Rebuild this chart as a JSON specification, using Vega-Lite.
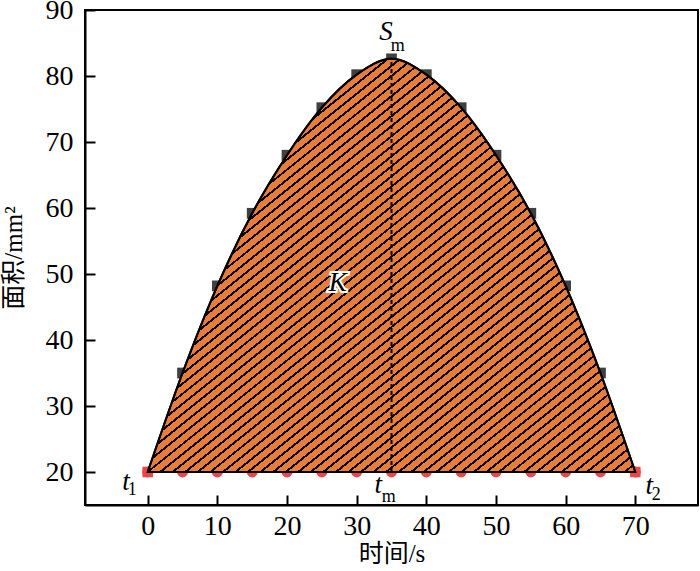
{
  "$schema": "https://vega.github.io/schema/vega-lite/v6.json",
  "width": 613,
  "height": 495,
  "autosize": "none",
  "padding": {"left": 85, "top": 10, "right": 2, "bottom": 66},
  "background": "white",
  "config": {
    "view": {"stroke": "black", "strokeWidth": 2},
    "font": "Liberation Serif",
    "axis": {
      "domainColor": "black", "domainWidth": 2,
      "tickColor": "black", "tickWidth": 2, "tickSize": -10,
      "labelFont": "Liberation Serif", "labelFontSize": 28, "labelColor": "black",
      "titleFont": "Liberation Serif, Noto Sans CJK SC", "titleFontSize": 25, "titleFontWeight": "normal", "titleColor": "black",
      "grid": false, "zindex": 1
    }
  },
  "datasets": {
    "squares": [
      {"t": 5, "s": 35.0}, {"t": 10, "s": 48.2}, {"t": 15, "s": 59.2}, {"t": 20, "s": 68.0},
      {"t": 25, "s": 75.2}, {"t": 30, "s": 80.2}, {"t": 35, "s": 82.6}, {"t": 40, "s": 80.2},
      {"t": 45, "s": 75.2}, {"t": 50, "s": 68.0}, {"t": 55, "s": 59.2}, {"t": 60, "s": 48.2},
      {"t": 65, "s": 35.0}
    ],
    "curve": [
      {"t": 0, "s": 20}, {"t": 5, "s": 35.0}, {"t": 10, "s": 48.2}, {"t": 15, "s": 59.2}, {"t": 20, "s": 68.0},
      {"t": 25, "s": 75.2}, {"t": 30, "s": 80.2}, {"t": 35, "s": 82.6}, {"t": 40, "s": 80.2},
      {"t": 45, "s": 75.2}, {"t": 50, "s": 68.0}, {"t": 55, "s": 59.2}, {"t": 60, "s": 48.2},
      {"t": 65, "s": 35.0}, {"t": 70, "s": 20}
    ],
    "base": [
      {"t": 0, "s": 20}, {"t": 5, "s": 20}, {"t": 10, "s": 20}, {"t": 15, "s": 20}, {"t": 20, "s": 20},
      {"t": 25, "s": 20}, {"t": 30, "s": 20}, {"t": 35, "s": 20}, {"t": 40, "s": 20}, {"t": 45, "s": 20},
      {"t": 50, "s": 20}, {"t": 55, "s": 20}, {"t": 60, "s": 20}, {"t": 65, "s": 20}, {"t": 70, "s": 20}
    ],
    "ends": [{"t": 0, "s": 20}, {"t": 70, "s": 20}],
    "peak": [{"t": 35, "s": 20, "s2": 82.6}],
    "bigItalic": [
      {"t": 27.3, "s": 48.6, "txt": "K"},
      {"t": 34.2, "s": 86.7, "txt": "S"},
      {"t": 33.1, "s": 18.0, "txt": "t"},
      {"t": -3.1, "s": 18.5, "txt": "t"},
      {"t": 72.0, "s": 17.9, "txt": "t"}
    ],
    "subs": [
      {"t": 35.9, "s": 84.6, "txt": "m"},
      {"t": 34.6, "s": 16.2, "txt": "m"},
      {"t": -2.2, "s": 17.2, "txt": "1"},
      {"t": 73.0, "s": 16.5, "txt": "2"}
    ]
  },
  "encoding": {
    "x": {"field": "t", "type": "quantitative"},
    "y": {"field": "s", "type": "quantitative"}
  },
  "layer": [
    {
      "data": {"name": "squares"},
      "mark": {"type": "square", "size": 115, "color": "#404040", "opacity": 1},
      "encoding": {
        "x": {"field": "t", "type": "quantitative",
              "scale": {"domain": [-9, 79], "nice": false, "zero": false},
              "axis": {"values": [0, 10, 20, 30, 40, 50, 60, 70], "title": "时间/s", "labelPadding": 17, "titlePadding": 1}},
        "y": {"field": "s", "type": "quantitative",
              "scale": {"domain": [15, 90], "nice": false, "zero": false},
              "axis": {"values": [20, 30, 40, 50, 60, 70, 80, 90], "title": "面积/mm²", "labelPadding": 22, "titlePadding": 19}}
      }
    },
    {
      "data": {"name": "base"},
      "mark": {"type": "circle", "size": 120, "color": "#E8474B", "opacity": 1}
    },
    {
      "data": {"name": "ends"},
      "mark": {"type": "square", "size": 110, "color": "#E8474B", "opacity": 1}
    },
    {
      "data": {"name": "curve"},
      "mark": {"type": "area", "interpolate": "monotone", "stroke": "black", "strokeWidth": 2, "fillOpacity": 1,
        "fill": {"gradient": "linear", "x1": 0, "y1": 0, "x2": 0.9706, "y2": 1.028, "stops": [
{"offset":0,"color":"#000"},{"offset":0.0032,"color":"#000"},{"offset":0.0032,"color":"#e87d3a"},{"offset":0.0125,"color":"#e87d3a"},
{"offset":0.0125,"color":"#000"},{"offset":0.0157,"color":"#000"},{"offset":0.0157,"color":"#e87d3a"},{"offset":0.025,"color":"#e87d3a"},
{"offset":0.025,"color":"#000"},{"offset":0.0282,"color":"#000"},{"offset":0.0282,"color":"#e87d3a"},{"offset":0.0375,"color":"#e87d3a"},
{"offset":0.0375,"color":"#000"},{"offset":0.0407,"color":"#000"},{"offset":0.0407,"color":"#e87d3a"},{"offset":0.05,"color":"#e87d3a"},
{"offset":0.05,"color":"#000"},{"offset":0.0532,"color":"#000"},{"offset":0.0532,"color":"#e87d3a"},{"offset":0.0625,"color":"#e87d3a"},
{"offset":0.0625,"color":"#000"},{"offset":0.0657,"color":"#000"},{"offset":0.0657,"color":"#e87d3a"},{"offset":0.075,"color":"#e87d3a"},
{"offset":0.075,"color":"#000"},{"offset":0.0782,"color":"#000"},{"offset":0.0782,"color":"#e87d3a"},{"offset":0.0875,"color":"#e87d3a"},
{"offset":0.0875,"color":"#000"},{"offset":0.0907,"color":"#000"},{"offset":0.0907,"color":"#e87d3a"},{"offset":0.1,"color":"#e87d3a"},
{"offset":0.1,"color":"#000"},{"offset":0.1032,"color":"#000"},{"offset":0.1032,"color":"#e87d3a"},{"offset":0.1125,"color":"#e87d3a"},
{"offset":0.1125,"color":"#000"},{"offset":0.1157,"color":"#000"},{"offset":0.1157,"color":"#e87d3a"},{"offset":0.125,"color":"#e87d3a"},
{"offset":0.125,"color":"#000"},{"offset":0.1282,"color":"#000"},{"offset":0.1282,"color":"#e87d3a"},{"offset":0.1375,"color":"#e87d3a"},
{"offset":0.1375,"color":"#000"},{"offset":0.1407,"color":"#000"},{"offset":0.1407,"color":"#e87d3a"},{"offset":0.15,"color":"#e87d3a"},
{"offset":0.15,"color":"#000"},{"offset":0.1532,"color":"#000"},{"offset":0.1532,"color":"#e87d3a"},{"offset":0.1625,"color":"#e87d3a"},
{"offset":0.1625,"color":"#000"},{"offset":0.1657,"color":"#000"},{"offset":0.1657,"color":"#e87d3a"},{"offset":0.175,"color":"#e87d3a"},
{"offset":0.175,"color":"#000"},{"offset":0.1782,"color":"#000"},{"offset":0.1782,"color":"#e87d3a"},{"offset":0.1875,"color":"#e87d3a"},
{"offset":0.1875,"color":"#000"},{"offset":0.1907,"color":"#000"},{"offset":0.1907,"color":"#e87d3a"},{"offset":0.2,"color":"#e87d3a"},
{"offset":0.2,"color":"#000"},{"offset":0.2032,"color":"#000"},{"offset":0.2032,"color":"#e87d3a"},{"offset":0.2125,"color":"#e87d3a"},
{"offset":0.2125,"color":"#000"},{"offset":0.2157,"color":"#000"},{"offset":0.2157,"color":"#e87d3a"},{"offset":0.225,"color":"#e87d3a"},
{"offset":0.225,"color":"#000"},{"offset":0.2282,"color":"#000"},{"offset":0.2282,"color":"#e87d3a"},{"offset":0.2375,"color":"#e87d3a"},
{"offset":0.2375,"color":"#000"},{"offset":0.2407,"color":"#000"},{"offset":0.2407,"color":"#e87d3a"},{"offset":0.25,"color":"#e87d3a"},
{"offset":0.25,"color":"#000"},{"offset":0.2532,"color":"#000"},{"offset":0.2532,"color":"#e87d3a"},{"offset":0.2625,"color":"#e87d3a"},
{"offset":0.2625,"color":"#000"},{"offset":0.2657,"color":"#000"},{"offset":0.2657,"color":"#e87d3a"},{"offset":0.275,"color":"#e87d3a"},
{"offset":0.275,"color":"#000"},{"offset":0.2782,"color":"#000"},{"offset":0.2782,"color":"#e87d3a"},{"offset":0.2875,"color":"#e87d3a"},
{"offset":0.2875,"color":"#000"},{"offset":0.2907,"color":"#000"},{"offset":0.2907,"color":"#e87d3a"},{"offset":0.3,"color":"#e87d3a"},
{"offset":0.3,"color":"#000"},{"offset":0.3032,"color":"#000"},{"offset":0.3032,"color":"#e87d3a"},{"offset":0.3125,"color":"#e87d3a"},
{"offset":0.3125,"color":"#000"},{"offset":0.3157,"color":"#000"},{"offset":0.3157,"color":"#e87d3a"},{"offset":0.325,"color":"#e87d3a"},
{"offset":0.325,"color":"#000"},{"offset":0.3282,"color":"#000"},{"offset":0.3282,"color":"#e87d3a"},{"offset":0.3375,"color":"#e87d3a"},
{"offset":0.3375,"color":"#000"},{"offset":0.3407,"color":"#000"},{"offset":0.3407,"color":"#e87d3a"},{"offset":0.35,"color":"#e87d3a"},
{"offset":0.35,"color":"#000"},{"offset":0.3532,"color":"#000"},{"offset":0.3532,"color":"#e87d3a"},{"offset":0.3625,"color":"#e87d3a"},
{"offset":0.3625,"color":"#000"},{"offset":0.3657,"color":"#000"},{"offset":0.3657,"color":"#e87d3a"},{"offset":0.375,"color":"#e87d3a"},
{"offset":0.375,"color":"#000"},{"offset":0.3782,"color":"#000"},{"offset":0.3782,"color":"#e87d3a"},{"offset":0.3875,"color":"#e87d3a"},
{"offset":0.3875,"color":"#000"},{"offset":0.3907,"color":"#000"},{"offset":0.3907,"color":"#e87d3a"},{"offset":0.4,"color":"#e87d3a"},
{"offset":0.4,"color":"#000"},{"offset":0.4032,"color":"#000"},{"offset":0.4032,"color":"#e87d3a"},{"offset":0.4125,"color":"#e87d3a"},
{"offset":0.4125,"color":"#000"},{"offset":0.4157,"color":"#000"},{"offset":0.4157,"color":"#e87d3a"},{"offset":0.425,"color":"#e87d3a"},
{"offset":0.425,"color":"#000"},{"offset":0.4282,"color":"#000"},{"offset":0.4282,"color":"#e87d3a"},{"offset":0.4375,"color":"#e87d3a"},
{"offset":0.4375,"color":"#000"},{"offset":0.4407,"color":"#000"},{"offset":0.4407,"color":"#e87d3a"},{"offset":0.45,"color":"#e87d3a"},
{"offset":0.45,"color":"#000"},{"offset":0.4532,"color":"#000"},{"offset":0.4532,"color":"#e87d3a"},{"offset":0.4625,"color":"#e87d3a"},
{"offset":0.4625,"color":"#000"},{"offset":0.4657,"color":"#000"},{"offset":0.4657,"color":"#e87d3a"},{"offset":0.475,"color":"#e87d3a"},
{"offset":0.475,"color":"#000"},{"offset":0.4782,"color":"#000"},{"offset":0.4782,"color":"#e87d3a"},{"offset":0.4875,"color":"#e87d3a"},
{"offset":0.4875,"color":"#000"},{"offset":0.4907,"color":"#000"},{"offset":0.4907,"color":"#e87d3a"},{"offset":0.5,"color":"#e87d3a"},
{"offset":0.5,"color":"#000"},{"offset":0.5032,"color":"#000"},{"offset":0.5032,"color":"#e87d3a"},{"offset":0.5125,"color":"#e87d3a"},
{"offset":0.5125,"color":"#000"},{"offset":0.5157,"color":"#000"},{"offset":0.5157,"color":"#e87d3a"},{"offset":0.525,"color":"#e87d3a"},
{"offset":0.525,"color":"#000"},{"offset":0.5282,"color":"#000"},{"offset":0.5282,"color":"#e87d3a"},{"offset":0.5375,"color":"#e87d3a"},
{"offset":0.5375,"color":"#000"},{"offset":0.5407,"color":"#000"},{"offset":0.5407,"color":"#e87d3a"},{"offset":0.55,"color":"#e87d3a"},
{"offset":0.55,"color":"#000"},{"offset":0.5532,"color":"#000"},{"offset":0.5532,"color":"#e87d3a"},{"offset":0.5625,"color":"#e87d3a"},
{"offset":0.5625,"color":"#000"},{"offset":0.5657,"color":"#000"},{"offset":0.5657,"color":"#e87d3a"},{"offset":0.575,"color":"#e87d3a"},
{"offset":0.575,"color":"#000"},{"offset":0.5782,"color":"#000"},{"offset":0.5782,"color":"#e87d3a"},{"offset":0.5875,"color":"#e87d3a"},
{"offset":0.5875,"color":"#000"},{"offset":0.5907,"color":"#000"},{"offset":0.5907,"color":"#e87d3a"},{"offset":0.6,"color":"#e87d3a"},
{"offset":0.6,"color":"#000"},{"offset":0.6032,"color":"#000"},{"offset":0.6032,"color":"#e87d3a"},{"offset":0.6125,"color":"#e87d3a"},
{"offset":0.6125,"color":"#000"},{"offset":0.6157,"color":"#000"},{"offset":0.6157,"color":"#e87d3a"},{"offset":0.625,"color":"#e87d3a"},
{"offset":0.625,"color":"#000"},{"offset":0.6282,"color":"#000"},{"offset":0.6282,"color":"#e87d3a"},{"offset":0.6375,"color":"#e87d3a"},
{"offset":0.6375,"color":"#000"},{"offset":0.6407,"color":"#000"},{"offset":0.6407,"color":"#e87d3a"},{"offset":0.65,"color":"#e87d3a"},
{"offset":0.65,"color":"#000"},{"offset":0.6532,"color":"#000"},{"offset":0.6532,"color":"#e87d3a"},{"offset":0.6625,"color":"#e87d3a"},
{"offset":0.6625,"color":"#000"},{"offset":0.6657,"color":"#000"},{"offset":0.6657,"color":"#e87d3a"},{"offset":0.675,"color":"#e87d3a"},
{"offset":0.675,"color":"#000"},{"offset":0.6782,"color":"#000"},{"offset":0.6782,"color":"#e87d3a"},{"offset":0.6875,"color":"#e87d3a"},
{"offset":0.6875,"color":"#000"},{"offset":0.6907,"color":"#000"},{"offset":0.6907,"color":"#e87d3a"},{"offset":0.7,"color":"#e87d3a"},
{"offset":0.7,"color":"#000"},{"offset":0.7032,"color":"#000"},{"offset":0.7032,"color":"#e87d3a"},{"offset":0.7125,"color":"#e87d3a"},
{"offset":0.7125,"color":"#000"},{"offset":0.7157,"color":"#000"},{"offset":0.7157,"color":"#e87d3a"},{"offset":0.725,"color":"#e87d3a"},
{"offset":0.725,"color":"#000"},{"offset":0.7282,"color":"#000"},{"offset":0.7282,"color":"#e87d3a"},{"offset":0.7375,"color":"#e87d3a"},
{"offset":0.7375,"color":"#000"},{"offset":0.7407,"color":"#000"},{"offset":0.7407,"color":"#e87d3a"},{"offset":0.75,"color":"#e87d3a"},
{"offset":0.75,"color":"#000"},{"offset":0.7532,"color":"#000"},{"offset":0.7532,"color":"#e87d3a"},{"offset":0.7625,"color":"#e87d3a"},
{"offset":0.7625,"color":"#000"},{"offset":0.7657,"color":"#000"},{"offset":0.7657,"color":"#e87d3a"},{"offset":0.775,"color":"#e87d3a"},
{"offset":0.775,"color":"#000"},{"offset":0.7782,"color":"#000"},{"offset":0.7782,"color":"#e87d3a"},{"offset":0.7875,"color":"#e87d3a"},
{"offset":0.7875,"color":"#000"},{"offset":0.7907,"color":"#000"},{"offset":0.7907,"color":"#e87d3a"},{"offset":0.8,"color":"#e87d3a"},
{"offset":0.8,"color":"#000"},{"offset":0.8032,"color":"#000"},{"offset":0.8032,"color":"#e87d3a"},{"offset":0.8125,"color":"#e87d3a"},
{"offset":0.8125,"color":"#000"},{"offset":0.8157,"color":"#000"},{"offset":0.8157,"color":"#e87d3a"},{"offset":0.825,"color":"#e87d3a"},
{"offset":0.825,"color":"#000"},{"offset":0.8282,"color":"#000"},{"offset":0.8282,"color":"#e87d3a"},{"offset":0.8375,"color":"#e87d3a"},
{"offset":0.8375,"color":"#000"},{"offset":0.8407,"color":"#000"},{"offset":0.8407,"color":"#e87d3a"},{"offset":0.85,"color":"#e87d3a"},
{"offset":0.85,"color":"#000"},{"offset":0.8532,"color":"#000"},{"offset":0.8532,"color":"#e87d3a"},{"offset":0.8625,"color":"#e87d3a"},
{"offset":0.8625,"color":"#000"},{"offset":0.8657,"color":"#000"},{"offset":0.8657,"color":"#e87d3a"},{"offset":0.875,"color":"#e87d3a"},
{"offset":0.875,"color":"#000"},{"offset":0.8782,"color":"#000"},{"offset":0.8782,"color":"#e87d3a"},{"offset":0.8875,"color":"#e87d3a"},
{"offset":0.8875,"color":"#000"},{"offset":0.8907,"color":"#000"},{"offset":0.8907,"color":"#e87d3a"},{"offset":0.9,"color":"#e87d3a"},
{"offset":0.9,"color":"#000"},{"offset":0.9032,"color":"#000"},{"offset":0.9032,"color":"#e87d3a"},{"offset":0.9125,"color":"#e87d3a"},
{"offset":0.9125,"color":"#000"},{"offset":0.9157,"color":"#000"},{"offset":0.9157,"color":"#e87d3a"},{"offset":0.925,"color":"#e87d3a"},
{"offset":0.925,"color":"#000"},{"offset":0.9282,"color":"#000"},{"offset":0.9282,"color":"#e87d3a"},{"offset":0.9375,"color":"#e87d3a"},
{"offset":0.9375,"color":"#000"},{"offset":0.9407,"color":"#000"},{"offset":0.9407,"color":"#e87d3a"},{"offset":0.95,"color":"#e87d3a"},
{"offset":0.95,"color":"#000"},{"offset":0.9532,"color":"#000"},{"offset":0.9532,"color":"#e87d3a"},{"offset":0.9625,"color":"#e87d3a"},
{"offset":0.9625,"color":"#000"},{"offset":0.9657,"color":"#000"},{"offset":0.9657,"color":"#e87d3a"},{"offset":0.975,"color":"#e87d3a"},
{"offset":0.975,"color":"#000"},{"offset":0.9782,"color":"#000"},{"offset":0.9782,"color":"#e87d3a"},{"offset":0.9875,"color":"#e87d3a"},
{"offset":0.9875,"color":"#000"},{"offset":0.9907,"color":"#000"},{"offset":0.9907,"color":"#e87d3a"},{"offset":1,"color":"#e87d3a"}
        ]}
      },
      "encoding": {"y2": {"datum": 20}}
    },
    {
      "data": {"name": "curve"},
      "mark": {"type": "line", "interpolate": "monotone", "color": "black", "strokeWidth": 2}
    },
    {
      "data": {"name": "peak"},
      "mark": {"type": "rule", "color": "black", "strokeWidth": 2, "strokeDash": [4, 3]},
      "encoding": {"y2": {"field": "s2"}}
    },
    {
      "data": {"name": "bigItalic"},
      "transform": [{"filter": "datum.txt == 'K'"}],
      "mark": {"type": "text", "font": "Liberation Serif", "fontStyle": "italic", "fontSize": 27, "fill": "white", "stroke": "white", "strokeWidth": 4, "baseline": "middle", "align": "center"},
      "encoding": {"text": {"field": "txt"}}
    },
    {
      "data": {"name": "bigItalic"},
      "mark": {"type": "text", "font": "Liberation Serif", "fontStyle": "italic", "fontSize": 27, "color": "black", "baseline": "middle", "align": "center"},
      "encoding": {"text": {"field": "txt"}}
    },
    {
      "data": {"name": "subs"},
      "mark": {"type": "text", "font": "Liberation Serif", "fontSize": 18, "color": "black", "baseline": "middle", "align": "center"},
      "encoding": {"text": {"field": "txt"}}
    }
  ]
}
